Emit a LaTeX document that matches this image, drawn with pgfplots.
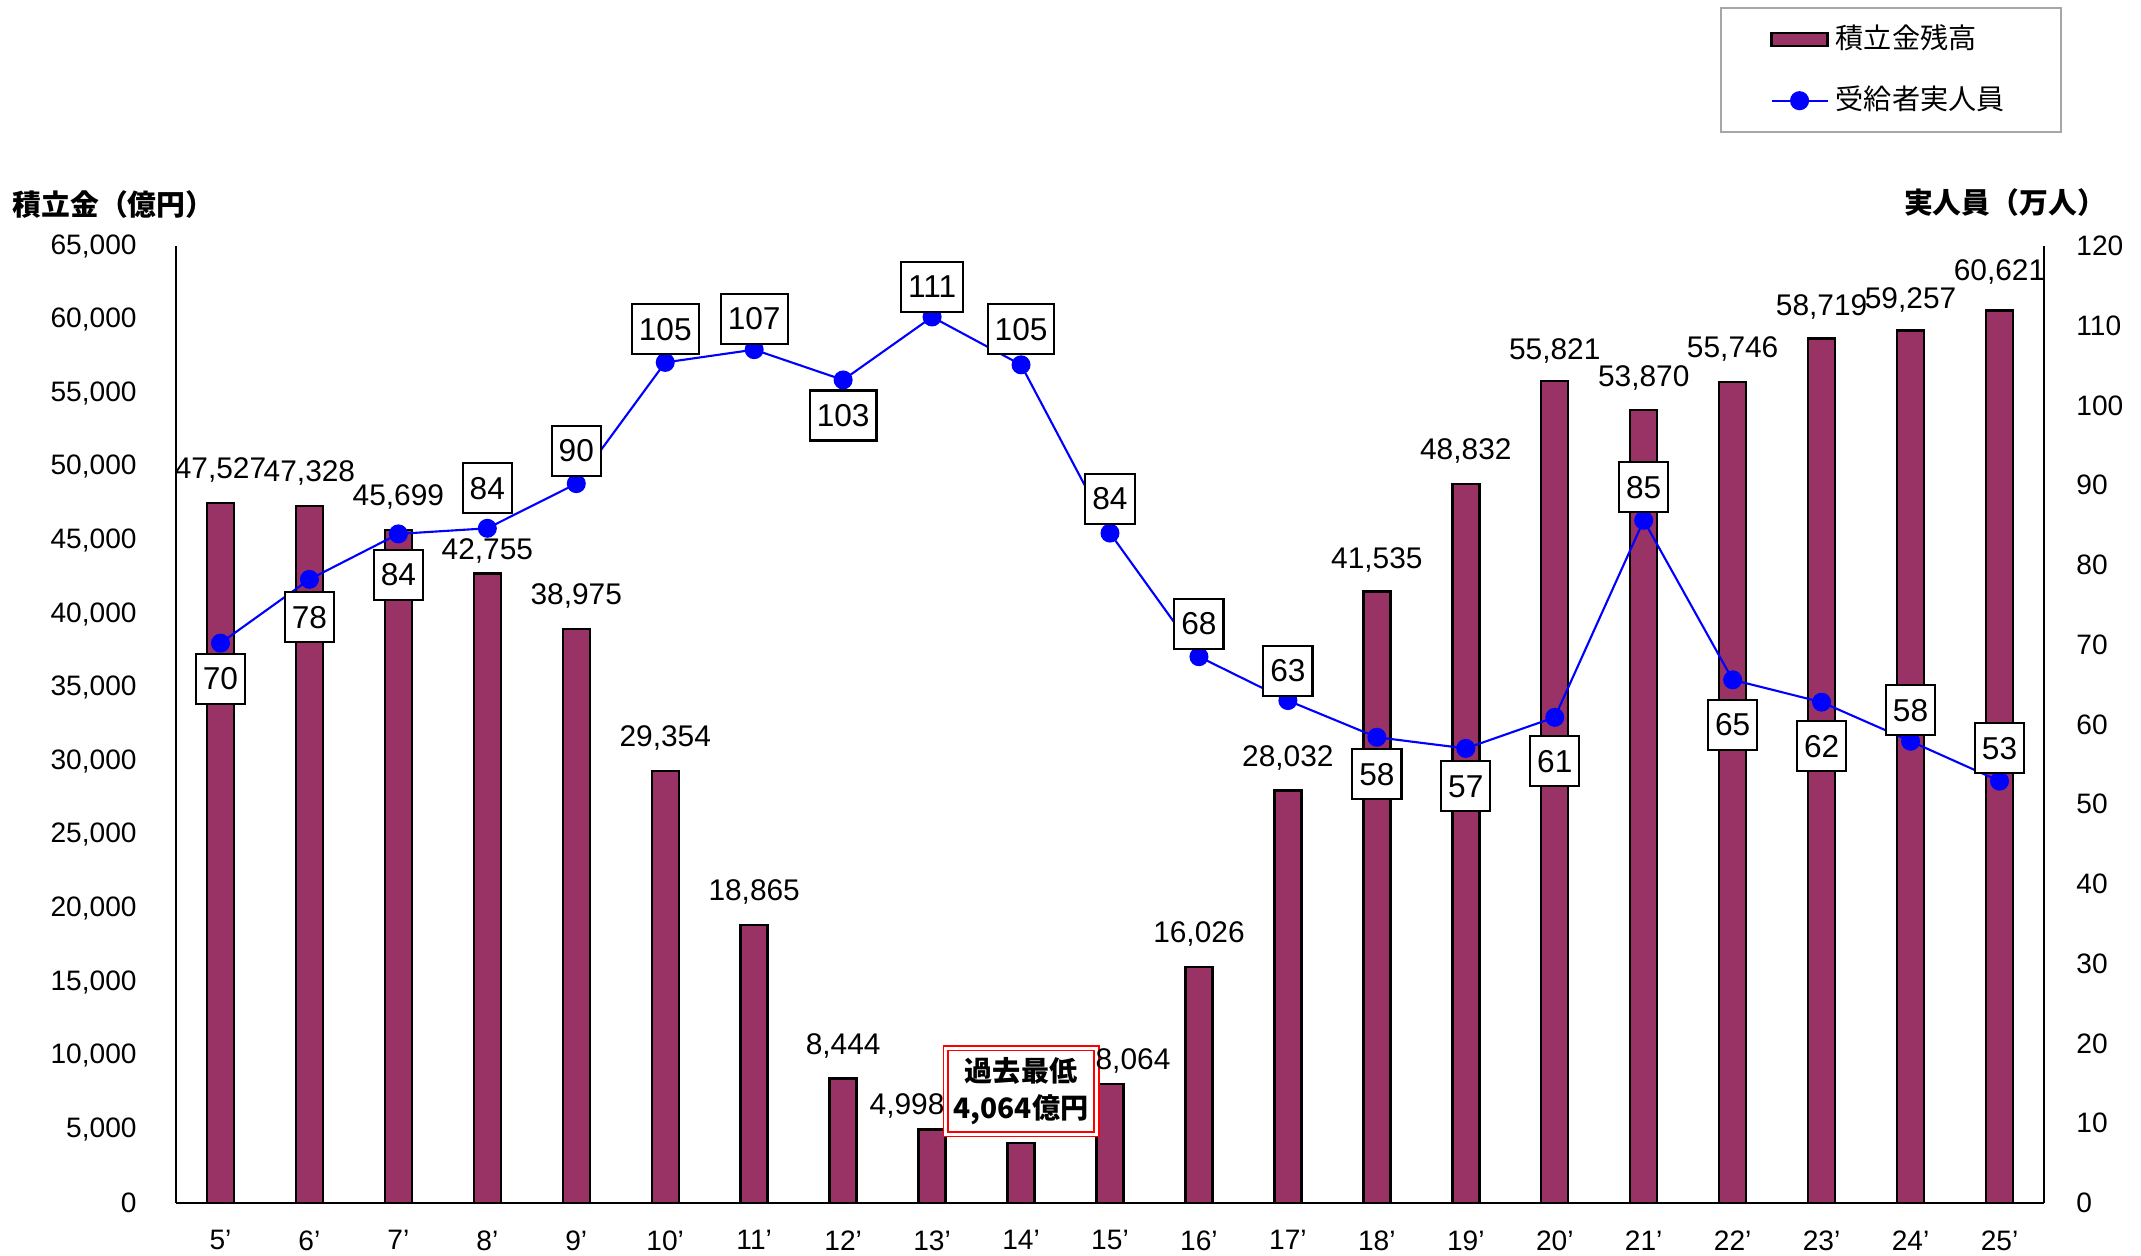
\documentclass[border=0pt]{standalone}
\usepackage{pgfplots}
\pgfplotsset{compat=1.18}
\usepackage{pgfplotstable}
\usepackage{fontspec}
\setmainfont{Liberation Sans}
\newfontfamily\cjk{Noto Sans CJK JP}
\definecolor{plum}{RGB}{153,51,102}

\pgfplotstableread{
x bal blab bx by ppl plab poff
0 47527 47,527 0 3.3 70.2 70 -3.55
1 47328 47,328 0 3.3 78.2 78 -3.8
2 45699 45,699 0 3.3 83.9 84 -4.1
3 42755 42,755 0 2.3 84.6 84 4.0
4 38975 38,975 0 3.3 90.2 90 3.3
5 29354 29,354 0 3.3 105.4 105 3.3
6 18865 18,865 0 3.3 107.0 107 3.1
7 8444 8,444 0 3.3 103.2 103 -3.55
8 4998 4,998 -2.5 2.3 111.1 111 3.0
9 4064 {} 0 3.3 105.1 105 3.55
10 8064 8,064 2.3 2.3 84.0 84 3.4
11 16026 16,026 0 3.3 68.5 68 3.3
12 28032 28,032 0 3.2 63.0 63 3.0
13 41535 41,535 0 3.2 58.4 58 -3.7
14 48832 48,832 0 3.3 57.0 57 -3.8
15 55821 55,821 0 3.0 60.9 61 -4.4
16 53870 53,870 0 3.2 85.6 85 3.3
17 55746 55,746 0 3.3 65.6 65 -4.5
18 58719 58,719 0 3.2 62.8 62 -4.4
19 59257 59,257 0 3.1 57.9 58 3.1
20 60621 60,621 0 3.9 52.9 53 3.3
}\data

\pgfplotsset{
  common/.style={
    at={(0mm,0mm)}, anchor=south west,
    scale only axis, width=186.8mm, height=95.7mm,
    xmin=-0.5, xmax=20.5,
    tick style={draw=none},
    axis line style={black, line width=0.5pt},
    /pgf/number format/assume math mode=true,
    ticklabel style={font=\fontsize{8}{9.6}\selectfont},
  }
}

\begin{document}
\begin{tikzpicture}
\useasboundingbox (-17.6mm,-5.3mm) rectangle (196.5mm,120.3mm);

\begin{axis}[common,
  ymin=0, ymax=65000,
  axis x line*=bottom, axis y line*=left,
  xtick={0,...,20},
  xticklabels={5’,6’,7’,8’,9’,10’,11’,12’,13’,14’,15’,16’,17’,18’,19’,20’,21’,22’,23’,24’,25’},
  xticklabel style={yshift=-1.5mm},
  ytick={0,5000,...,65000},
  scaled y ticks=false,
  yticklabel style={/pgf/number format/fixed, /pgf/number format/1000 sep={,}, xshift=-2.7mm},
]
\addplot[ybar, bar width=2.7mm, fill=plum, draw=black, line width=0.7pt,
  point meta=explicit symbolic,
  visualization depends on={\thisrow{bx}\as\bx},
  visualization depends on={\thisrow{by}\as\by},
  nodes near coords,
  every node near coord/.append style={anchor=center, text=black, font=\fontsize{8.5}{10}\selectfont, xshift=\bx mm, yshift=\by mm, inner sep=0pt},
] table[x=x, y=bal, meta=blab] {\data};

\node[draw=red, double=white, double distance=0.9pt, line width=0.45pt, fill=white,
  align=center, font=\cjk\bfseries\fontsize{8}{10.5}\selectfont,
  inner sep=0.8mm, minimum width=14.2mm, minimum height=8.6mm]
  at (axis cs:9,7600) {過去最低\\4,064億円};
\end{axis}

\begin{axis}[common,
  ymin=0, ymax=120,
  axis x line=none, axis y line*=right,
  ytick={0,10,...,120},
  yticklabel style={xshift=2mm},
  legend style={at={(1.0096,1.2497)}, anchor=north east, draw=gray!70, line width=0.5pt,
    font=\cjk\fontsize{8}{9.6}\selectfont, inner xsep=4.95mm, inner ysep=1.0mm, row sep=1.8mm},
  legend cell align=left,
]
\addlegendimage{legend image code/.code={\draw[fill=plum, draw=black, line width=0.7pt] (0.5mm,-0.65mm) rectangle (6.1mm,0.65mm);}}
\addlegendentry{積立金残高}
\addplot[blue, line width=0.6pt, mark=*, mark size=2.4pt,
  mark options={draw=blue, fill=blue},
  point meta=explicit symbolic,
  visualization depends on={\thisrow{poff}\as\poff},
  nodes near coords,
  every node near coord/.append style={anchor=center, text=black, fill=white, draw=black, line width=0.6pt,
    font=\fontsize{9}{10.8}\selectfont, inner xsep=0.7mm, inner ysep=0pt, minimum height=5mm, yshift=\poff mm},
  legend image code/.code={\draw[blue, line width=0.6pt] (0.5mm,0mm) -- (6.1mm,0mm); \fill[blue] (3.3mm,0mm) circle (0.85mm);},
] table[x=x, y=ppl, meta=plab] {\data};
\addlegendentry{受給者実人員}
\end{axis}

\node[font=\cjk\bfseries\fontsize{8.2}{9.8}\selectfont] at (-6.25mm,99.8mm) {積立金（億円）};
\node[font=\cjk\bfseries\fontsize{8.2}{9.8}\selectfont] at (182.9mm,100mm) {実人員（万人）};
\end{tikzpicture}
\end{document}
